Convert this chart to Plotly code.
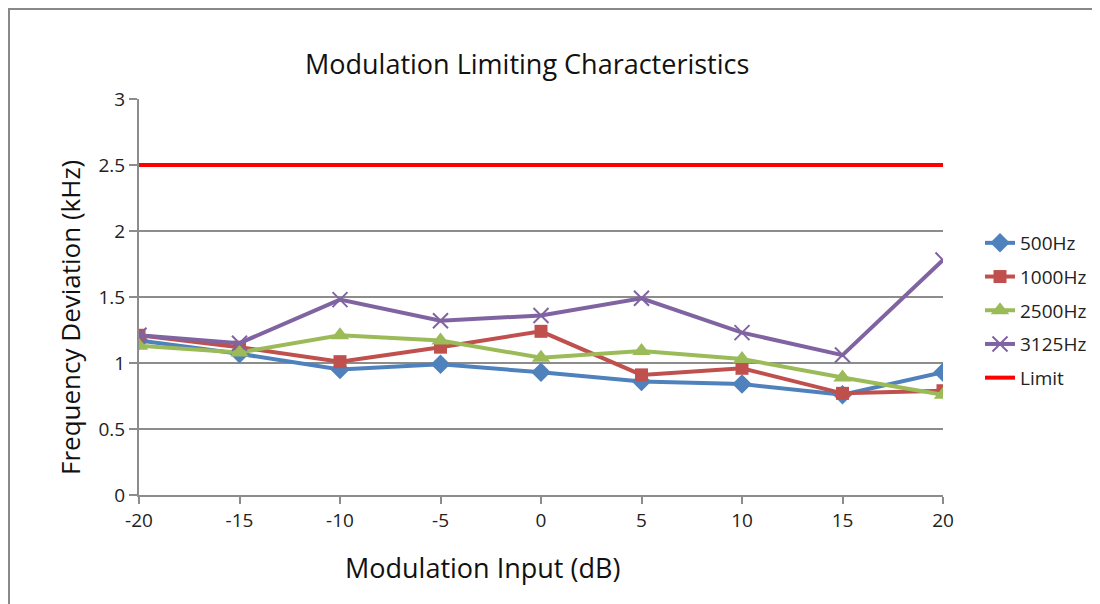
import plotly.graph_objects as go

x_db = [-20, -15, -10, -5, 0, 5, 10, 15, 20]
y_500 = [1.17, 1.07, 0.95, 0.99, 0.93, 0.86, 0.84, 0.76, 0.93]
y_1000 = [1.21, 1.12, 1.01, 1.12, 1.24, 0.91, 0.96, 0.77, 0.79]
y_2500 = [1.13, 1.08, 1.21, 1.17, 1.04, 1.09, 1.03, 0.89, 0.76]
y_3125 = [1.21, 1.15, 1.48, 1.32, 1.36, 1.49, 1.23, 1.06, 1.78]
y_limit = [2.5, 2.5, 2.5, 2.5, 2.5, 2.5, 2.5, 2.5, 2.5]
y_ticks = [0, 0.5, 1, 1.5, 2, 2.5, 3]
y_tick_text = ["0", "0.5", "1", "1.5", "2", "2.5", "3"]

FONT = "Open Sans"
OFF = 8  # browser body margin
W, H = 1100 - OFF, 604 - OFF
L, R, T, B = 139 - OFF, 943 - OFF, 99 - OFF, 495 - OFF

def px(xp):
    return (xp - OFF - L) / (R - L)

def py(yp):
    return (B - (yp - OFF)) / (B - T)

fig = go.Figure()
series = [
    ("500Hz", y_500, "#4F81BD", "diamond", 15, None),
    ("1000Hz", y_1000, "#C0504D", "square", 13, None),
    ("2500Hz", y_2500, "#9BBB59", "triangle-up", 16, None),
    ("3125Hz", y_3125, "#8064A2", "x-thin", 15, 2),
]
for i, (name, ys, col, sym, sz, lw) in enumerate(series):
    marker = dict(symbol=sym, size=sz, color=col)
    if lw:
        marker["line"] = dict(color=col, width=lw)
    fig.add_trace(go.Scatter(x=x_db, y=ys, name=name, mode="lines+markers",
                             legendgroup="g%d" % i,
                             line=dict(color=col, width=4), marker=marker))
fig.add_trace(go.Scatter(x=x_db, y=y_limit, name="Limit", mode="lines",
                         legendgroup="g9",
                         line=dict(color="#FF0000", width=4)))

fig.update_layout(
    width=W, height=H,
    margin=dict(l=L, r=W - R, t=T, b=H - B, pad=0, autoexpand=False),
    paper_bgcolor="white", plot_bgcolor="white",
    font=dict(family=FONT, size=16, color="#222222"),
    showlegend=True,
    legend=dict(x=px(980), y=py(224), xanchor="left", yanchor="top",
                font=dict(family=FONT, size=19, color="#222222"),
                tracegroupgap=6, itemwidth=30, bgcolor="rgba(0,0,0,0)"),
    xaxis=dict(range=[-20, 20], tickmode="array", tickvals=x_db,
               ticktext=[str(v) for v in x_db], automargin=False,
               showgrid=False, zeroline=False,
               showline=True, linecolor="#8C8C8C", linewidth=2,
               ticks="outside", ticklen=7, tickwidth=2, tickcolor="#8C8C8C",
               tickfont=dict(family=FONT, size=19, color="#222222")),
    yaxis=dict(range=[0, 3], tickmode="array", tickvals=y_ticks, ticktext=y_tick_text,
               automargin=False,
               showgrid=True, gridcolor="#8C8C8C", gridwidth=1.5, zeroline=False,
               showline=True, linecolor="#8C8C8C", linewidth=2,
               ticks="outside", ticklen=8, tickwidth=2, tickcolor="#8C8C8C",
               tickfont=dict(family=FONT, size=19, color="#222222")),
    annotations=[
        dict(text="Modulation Limiting Characteristics", x=px(527), y=py(63),
             xref="paper", yref="paper", xanchor="center", yanchor="middle",
             showarrow=False, font=dict(family=FONT, size=27, color="#111111")),
        dict(text="Frequency Deviation (kHz)", x=px(70), y=py(318),
             xref="paper", yref="paper", xanchor="center", yanchor="middle",
             textangle=-90, showarrow=False,
             font=dict(family=FONT, size=26, color="#111111")),
        dict(text="Modulation Input (dB)", x=px(482), y=py(567),
             xref="paper", yref="paper", xanchor="center", yanchor="middle",
             showarrow=False, font=dict(family=FONT, size=27, color="#111111")),
    ],
    shapes=[
        dict(type="rect", xref="paper", yref="paper",
             x0=px(9), x1=px(1120), y0=py(640), y1=py(9),
             line=dict(color="#888888", width=2), fillcolor="rgba(0,0,0,0)", layer="below"),
    ],
)

fig.write_html("out.html")
